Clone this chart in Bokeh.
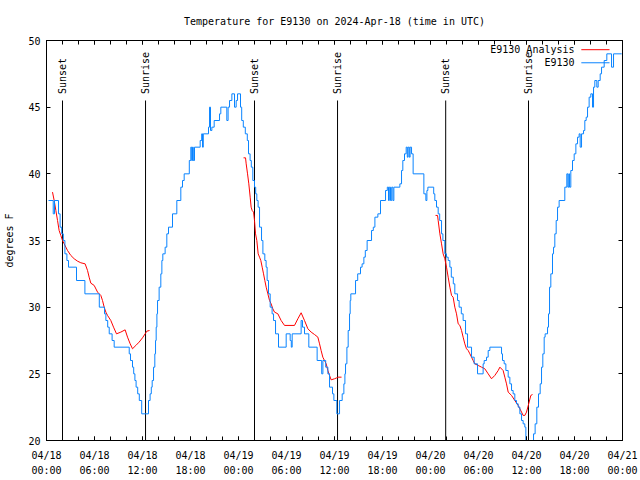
import math
from bokeh.plotting import figure
from bokeh.models import FixedTicker, LinearAxis, Range1d, Label
from bokeh.embed import file_html
from bokeh.resources import INLINE
from bokeh.core.properties import value

FONT = "DejaVu Sans Mono"
TITLE = "Temperature for E9130 on 2024-Apr-18 (time in UTC)"
Y_LABEL = "degrees F"

# time axis: hours since 2024-04-18 00:00 UTC
tick_hours = [0, 6, 12, 18, 24, 30, 36, 42, 48, 54, 60, 66, 72]
tick_labels = ["04/18\n00:00", "04/18\n06:00", "04/18\n12:00", "04/18\n18:00",
               "04/19\n00:00", "04/19\n06:00", "04/19\n12:00", "04/19\n18:00",
               "04/20\n00:00", "04/20\n06:00", "04/20\n12:00", "04/20\n18:00",
               "04/21\n00:00"]
minor_hours = list(range(0, 73, 2))
temp_ticks = [20, 25, 30, 35, 40, 45, 50]

sunset_hours = [2.0, 26.0, 49.9]
sunrise_hours = [12.38, 36.38, 60.25]

# E9130 observations (step series)
obs_hours = [
    0.25, 0.84, 1.00, 1.50, 1.70, 1.90, 2.10, 2.30, 2.55, 2.75,
    3.75, 4.80, 6.60, 7.25, 7.42, 7.65, 7.84, 8.20, 8.46, 10.34,
    10.50, 10.75, 10.90, 11.05, 11.20, 11.40, 11.60, 11.90, 12.75, 12.95,
    13.10, 13.21, 13.38, 13.54, 13.63, 13.71, 13.80, 13.88, 14.08, 14.29,
    14.42, 14.54, 14.83, 15.04, 15.25, 15.75, 16.29, 16.79, 17.00, 17.21,
    17.85, 18.04, 18.15, 18.25, 18.35, 18.50, 19.21, 19.40, 19.50, 19.60,
    20.25, 20.38, 20.50, 20.67, 20.96, 21.63, 21.79, 22.54, 22.70, 22.88,
    23.17, 23.50, 23.71, 23.88, 24.25, 24.40, 24.60, 24.85, 25.10, 25.25,
    25.45, 25.60, 25.79, 26.00, 26.15, 26.29, 26.45, 26.63, 26.88, 27.05,
    27.29, 27.45, 27.58, 27.75, 27.96, 28.20, 28.38, 28.63, 29.00, 29.96,
    30.46, 30.60, 30.71, 31.83, 32.00, 32.25, 32.79, 33.83, 34.40, 34.55,
    34.90, 35.17, 35.38, 35.75, 35.92, 36.29, 36.63, 36.96, 37.17, 37.30,
    37.38, 37.55, 37.71, 37.88, 37.96, 38.04, 38.63, 38.90, 39.25, 39.45,
    39.67, 39.85, 40.08, 40.63, 40.85, 41.05, 41.42, 41.75, 42.38, 42.60,
    42.75, 42.85, 43.00, 43.15, 43.30, 43.42, 44.17, 44.38, 44.54, 44.75,
    44.96, 45.10, 45.20, 45.35, 45.45, 45.63, 45.83, 47.17, 47.42, 47.55,
    47.67, 48.40, 48.54, 48.75, 48.96, 49.15, 49.38, 49.55, 49.79, 50.00,
    50.21, 50.42, 50.60, 50.85, 51.04, 51.38, 51.58, 51.85, 52.08, 52.38,
    52.63, 53.13, 53.46, 53.88, 54.58, 54.71, 55.00, 55.21, 55.42, 56.88,
    57.00, 57.21, 57.42, 57.71, 57.92, 58.13, 58.33, 58.54, 58.75, 58.96,
    59.17, 59.38, 59.58, 59.79, 59.92, 60.88, 61.08, 61.29, 61.50, 61.71,
    61.88, 62.04, 62.21, 62.33, 62.63, 62.75, 62.88, 63.04, 63.25, 63.38,
    63.54, 63.71, 63.88, 64.08, 64.79, 65.04, 65.17, 65.29, 65.38, 65.54,
    65.75, 65.96, 66.17, 66.38, 66.58, 66.71, 66.88, 67.13, 67.29, 67.46,
    67.63, 67.83, 68.04, 68.25, 68.38, 68.54, 68.79, 68.96, 69.21, 69.38,
    69.71, 70.04, 70.63, 70.88, 71.90,
]
obs_temp = [
    38, 37, 38, 37, 36, 35.5, 35, 34, 33.5, 33,
    32, 31, 30, 29.5, 29, 28.5, 28, 27.5, 27, 26.5,
    26, 25.5, 25, 24.5, 24, 23.5, 23, 22, 23, 23.5,
    24, 24.5, 25.5, 26.5, 27.5, 28.5, 29.5, 30.5, 31.5, 32.5,
    33.5, 34, 34.5, 35.5, 36, 37, 38, 39, 39.5, 40,
    41, 42, 41, 42, 41, 42, 42.5, 43, 42, 43,
    43.5, 45, 43.25, 43.5, 44, 44.5, 45, 44, 45, 45.5,
    46, 45, 45.5, 46, 45, 44, 43.5, 43, 42.5, 41.5,
    41, 40.5, 39.5, 39, 38.5, 38, 37.5, 36, 35, 34,
    33.5, 33, 32, 31, 30, 29.5, 29, 28, 27, 28,
    27.5, 27, 28, 29, 28.5, 28, 27, 26, 25, 26,
    25.5, 25, 24, 23.5, 23, 22, 23, 23.5, 24.25, 25,
    25.75, 27, 28.25, 29.5, 30.5, 31, 32, 32.5, 33, 33.25,
    33.75, 34.25, 35, 35.75, 36, 36.75, 37, 38, 38.75, 39,
    38, 39, 38, 39, 38, 39, 39.25, 40.25, 41, 41.5,
    42, 41.25, 42, 41.25, 42, 41.5, 40, 38.5, 38, 38.75,
    39, 38.5, 38, 37.5, 37, 36.5, 35.5, 35, 34, 33.75,
    33.5, 33, 32.25, 31.75, 31, 30.5, 30, 29.5, 29, 28,
    27, 26.25, 25.75, 25, 25.75, 26, 26.25, 26.75, 27, 26.5,
    26, 25.75, 25.25, 24.75, 24.25, 23.75, 23.5, 23, 22.75, 22.5,
    22, 21.5, 21.25, 21, 19.5, 20.5, 21.25, 22.5, 23.5, 24.25,
    25.5, 26.5, 27.75, 28, 28.5, 29.5, 31.5, 32.5, 34, 34.5,
    35.5, 36.5, 37.5, 38, 39, 40, 39, 40, 39, 40.25,
    41, 41.5, 42.25, 42.75, 43, 42, 43, 43.25, 44, 44.25,
    45, 45.75, 46, 45, 46.5, 47, 46.5, 47, 47.5, 48,
    48.5, 49, 48, 49, 49,
]

# E9130 analysis, three overnight segments
ana1_hours = [0.75, 0.96, 1.17, 1.38, 1.58, 1.79, 2.00, 2.21, 2.63, 3.04,
              3.46, 3.88, 4.29, 4.83, 5.13, 5.33, 5.54, 5.96, 6.38, 6.79,
              7.00, 7.21, 7.42, 7.63, 8.04, 8.38, 8.75, 9.29, 9.83, 10.13,
              10.46, 10.75, 11.17, 11.58, 12.00, 12.33, 12.54, 12.88]
ana1_temp = [38.63, 38.0, 37.25, 36.5, 35.75, 35.38, 35.0, 34.75, 34.25, 33.88,
             33.63, 33.45, 33.33, 33.25, 32.75, 32.25, 31.8, 31.63, 31.13, 30.88,
             30.5, 30.0, 29.63, 29.38, 29.0, 28.5, 28.0, 28.13, 28.3, 27.75,
             27.25, 26.88, 27.13, 27.38, 27.7, 28.0, 28.2, 28.25]
ana2_hours = [24.63, 24.88, 24.96, 25.13, 25.29, 25.46, 25.58, 25.71, 25.88, 26.00,
              26.13, 26.29, 26.46, 26.63, 26.79, 26.96, 27.13, 27.29, 27.46, 27.67,
              27.88, 28.08, 28.29, 28.50, 28.92, 29.33, 29.75, 31.00, 31.42, 31.83,
              32.25, 32.67, 33.08, 33.50, 33.92, 34.13, 34.33, 34.54, 34.75, 34.96,
              35.17, 35.38, 35.58, 36.00, 36.21, 36.42, 36.88]
ana2_temp = [41.2, 41.2, 40.75, 40.0, 39.25, 38.25, 37.5, 37.25, 37.13, 36.5,
             35.5, 35.0, 34.0, 33.75, 33.5, 33.0, 32.5, 32.0, 31.5, 31.0,
             30.5, 30.25, 29.88, 29.63, 29.5, 29.0, 28.63, 28.63, 29.13, 29.58,
             29.0, 28.38, 28.13, 27.95, 27.75, 27.25, 26.75, 26.25, 26.0, 25.75,
             25.25, 24.88, 24.55, 24.63, 24.68, 24.75, 24.75]
ana3_hours = [48.63, 48.88, 48.96, 49.17, 49.38, 49.58, 49.79, 50.00, 50.21, 50.42,
              50.63, 50.83, 51.04, 51.25, 51.46, 51.67, 51.88, 52.08, 52.29, 52.50,
              52.71, 52.92, 53.13, 53.33, 53.54, 53.96, 54.38, 54.79, 55.21, 55.63,
              56.04, 56.46, 56.67, 57.08, 57.29, 57.50, 57.71, 58.13, 58.54, 58.96,
              59.38, 59.58, 59.79, 60.00, 60.21, 60.54, 60.75]
ana3_temp = [36.88, 36.88, 36.5, 35.5, 34.75, 34.0, 33.63, 33.0, 32.25, 31.5,
             30.88, 30.75, 30.0, 29.5, 28.75, 28.63, 28.25, 27.75, 27.25, 26.88,
             26.75, 26.5, 26.25, 26.0, 25.75, 25.63, 25.5, 25.38, 25.0, 24.63,
             24.88, 25.25, 25.5, 25.25, 24.75, 24.25, 23.63, 23.38, 23.0, 22.63,
             22.13, 21.88, 21.88, 22.13, 22.6, 23.38, 23.45]

series_names = ["E9130 Analysis", "E9130"]
series_colors = ["#ff0000", "#0a84ff"]

X0, X1 = 0, 72
Y0, Y1 = 20, 50

p = figure(width=640, height=480, output_backend="svg", toolbar_location=None,
           x_range=Range1d(X0, X1), y_range=Range1d(Y0, Y1),
           min_border_left=46, min_border_right=18, min_border_top=40, min_border_bottom=40,
           x_axis_type=None, y_axis_type=None)
p.background_fill_color = "white"
p.border_fill_color = "white"
p.outline_line_color = "black"
p.outline_line_alpha = 1.0
p.outline_line_width = 1
p.grid.visible = False

p.title.text = TITLE
p.title.align = "center"
p.title.text_font = FONT
p.title.text_font_size = "10px"
p.title.text_font_style = "normal"
p.title.text_color = "black"
p.title.standoff = 27

xt = FixedTicker(ticks=tick_hours, minor_ticks=minor_hours)
yt = FixedTicker(ticks=temp_ticks, minor_ticks=[])

def style(ax, labels=True):
    ax.axis_line_color = "black"
    ax.major_tick_line_color = "black"
    ax.minor_tick_line_color = "black"
    ax.major_tick_in = 4
    ax.major_tick_out = 0
    ax.minor_tick_in = 4
    ax.minor_tick_out = 0
    ax.major_label_text_font = FONT
    ax.major_label_text_font_size = "10px" if labels else "0px"
    ax.major_label_text_color = "black"
    ax.axis_label_text_font = FONT
    ax.axis_label_text_font_size = "10px"
    ax.axis_label_text_font_style = "normal"
    ax.axis_label_text_color = "black"
    if not labels:
        ax.major_label_standoff = 0

xb = LinearAxis(ticker=xt, major_label_overrides=dict(zip(tick_hours, tick_labels)))
style(xb)
xb.major_label_standoff = 9
xb.major_label_text_line_height = 1.4
p.add_layout(xb, "below")

xa = LinearAxis(ticker=xt, major_label_overrides={t: "" for t in tick_hours})
style(xa, labels=False)
p.add_layout(xa, "above")

yl = LinearAxis(ticker=yt, axis_label=Y_LABEL)
style(yl)
yl.major_label_standoff = 6
yl.axis_label_standoff = 10
p.add_layout(yl, "left")

yr = LinearAxis(ticker=yt, major_label_overrides={t: "" for t in temp_ticks})
style(yr, labels=False)
p.add_layout(yr, "right")

# key (gnuplot style: text right-aligned, sample to the right)
span_x = X1 - X0
span_y = Y1 - Y0
key_text_x = X0 + 0.9167 * span_x
key_line_x0 = X0 + 0.9285 * span_x
key_line_x1 = X0 + 0.9775 * span_x
key_rows = [Y1 - 0.023 * span_y, Y1 - 0.0557 * span_y]
for name, color, ky in zip(series_names, series_colors, key_rows):
    p.add_layout(Label(x=key_text_x, y=ky, text=name, text_align="right",
                       text_baseline="middle", text_font=FONT,
                       text_font_size="10px", text_color="black"))
    p.line([key_line_x0, key_line_x1], [ky, ky], line_color=color, line_width=1)

# sunrise / sunset markers
line_top = Y0 + 0.85 * span_y
label_y = Y0 + 0.866 * span_y
ev_hours = sunset_hours + sunrise_hours
ev_names = ["Sunset"] * len(sunset_hours) + ["Sunrise"] * len(sunrise_hours)
p.segment(x0=ev_hours, y0=[Y0] * len(ev_hours), x1=ev_hours, y1=[line_top] * len(ev_hours),
          line_color="black", line_width=1)
p.text(x=ev_hours, y=[label_y] * len(ev_hours), text=ev_names, angle=math.pi / 2,
       text_align="left", text_baseline="middle", text_font=value(FONT),
       text_font_size="10px", text_color="black")

# data
for hrs, tmp in [(ana1_hours, ana1_temp), (ana2_hours, ana2_temp), (ana3_hours, ana3_temp)]:
    p.line(hrs, tmp, line_color=series_colors[0], line_width=1)
p.step(obs_hours, obs_temp, mode="after", line_color=series_colors[1], line_width=1)

open("out.html", "w").write(file_html(p, INLINE))
